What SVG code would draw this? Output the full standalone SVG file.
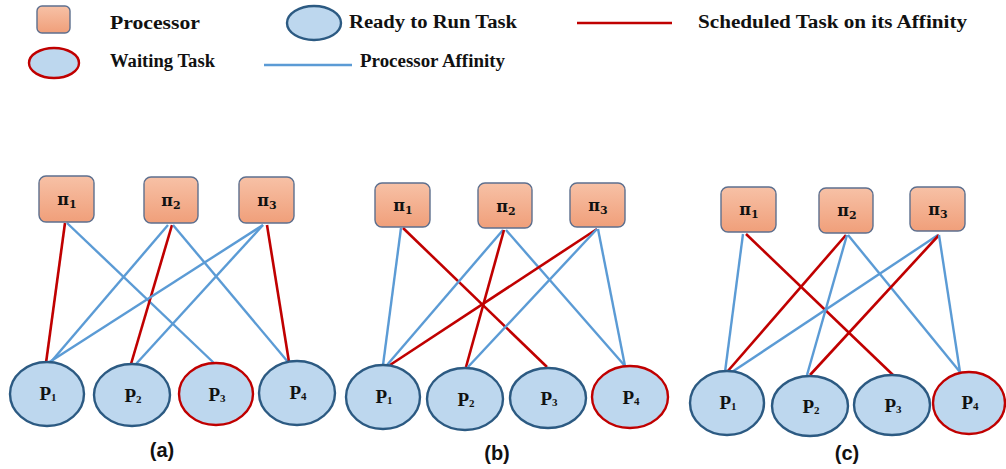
<svg xmlns="http://www.w3.org/2000/svg" width="1006" height="469" viewBox="0 0 1006 469">
<defs>
<linearGradient id="pg" x1="0" y1="0" x2="0" y2="1">
<stop offset="0" stop-color="#f7c1a6"/>
<stop offset="1" stop-color="#f09f7a"/>
</linearGradient>
<style>
.proc{fill:url(#pg);stroke:#5d6f8e;stroke-width:1.4}
.task{fill:#bdd7ee;stroke:#2c5a82;stroke-width:2.4}
.wait{fill:#bdd7ee;stroke:#c00000;stroke-width:2.4}
.aff{stroke:#5b9bd5;stroke-width:2.4;fill:none}
.sch{stroke:#c00000;stroke-width:2.6;fill:none}
.leg{font-family:"Liberation Serif",serif;font-weight:bold;font-size:18px;fill:#111}
.lbl{font-family:"Liberation Serif",serif;font-weight:bold;font-size:19px;fill:#111;text-anchor:middle}
.pil{font-family:"DejaVu Serif",serif;font-weight:bold;font-size:16px;fill:#111;text-anchor:middle}
.sub{font-size:11px}
.cap{font-family:"Liberation Sans",sans-serif;font-weight:bold;font-size:20px;fill:#111;text-anchor:middle}
</style>
</defs>

<g id="legend">
<rect class="proc" x="37" y="6" width="33" height="27" rx="5"/>
<text class="leg" x="110" y="29" textLength="90" lengthAdjust="spacingAndGlyphs">Processor</text>
<ellipse class="task" cx="314" cy="23" rx="27" ry="17"/>
<text class="leg" x="349" y="28" textLength="168" lengthAdjust="spacingAndGlyphs">Ready to Run Task</text>
<line class="sch" x1="577" y1="23" x2="672" y2="23" stroke-width="3"/>
<text class="leg" x="698" y="28" textLength="269" lengthAdjust="spacingAndGlyphs">Scheduled Task on its Affinity</text>
<ellipse class="wait" cx="54" cy="63" rx="25" ry="15"/>
<text class="leg" x="110" y="67" textLength="105" lengthAdjust="spacingAndGlyphs">Waiting Task</text>
<line class="aff" x1="264" y1="65" x2="352" y2="65" stroke-width="3"/>
<text class="leg" x="360" y="67" textLength="145" lengthAdjust="spacingAndGlyphs">Processor Affinity</text>
</g>

<g id="connectors">
<!-- (a) -->
<line class="sch" x1="65" y1="223" x2="46" y2="363"/>
<line class="aff" x1="67" y1="223" x2="215" y2="364"/>
<line class="sch" x1="172" y1="225" x2="131" y2="364"/>
<line class="aff" x1="168" y1="225" x2="50" y2="363"/>
<line class="aff" x1="173" y1="225" x2="288" y2="362"/>
<line class="sch" x1="267" y1="225" x2="289" y2="362"/>
<line class="aff" x1="263" y1="225" x2="48" y2="363"/>
<line class="aff" x1="263" y1="225" x2="136" y2="364"/>
<!-- (b) -->
<line class="aff" x1="401" y1="228" x2="383" y2="365"/>
<line class="sch" x1="403" y1="228" x2="547" y2="367"/>
<line class="aff" x1="503" y1="230" x2="387" y2="365"/>
<line class="sch" x1="504" y1="230" x2="466" y2="367"/>
<line class="aff" x1="506" y1="230" x2="625" y2="366"/>
<line class="sch" x1="597" y1="229" x2="390" y2="365"/>
<line class="aff" x1="597" y1="229" x2="468" y2="367"/>
<line class="aff" x1="598" y1="229" x2="625" y2="366"/>
<!-- (c) -->
<line class="aff" x1="743" y1="234" x2="725" y2="372"/>
<line class="sch" x1="746" y1="234" x2="893" y2="375"/>
<line class="sch" x1="846" y1="235" x2="727" y2="372"/>
<line class="aff" x1="847" y1="235" x2="807" y2="375"/>
<line class="aff" x1="848" y1="235" x2="960" y2="372"/>
<line class="aff" x1="938" y1="235" x2="732" y2="372"/>
<line class="sch" x1="939" y1="235" x2="810" y2="375"/>
<line class="aff" x1="939" y1="235" x2="960" y2="372"/>
</g>

<!-- panel (a) -->
<g id="a-pi1"><rect class="proc" x="39" y="176" width="55" height="46" rx="7"/><text class="pil" x="67" y="205">π<tspan class="sub" dy="3">1</tspan></text></g>
<g id="a-pi2"><rect class="proc" x="144" y="177" width="54" height="46" rx="7"/><text class="pil" x="171" y="206">π<tspan class="sub" dy="3">2</tspan></text></g>
<g id="a-pi3"><rect class="proc" x="239" y="177" width="55" height="46" rx="7"/><text class="pil" x="267" y="206">π<tspan class="sub" dy="3">3</tspan></text></g>
<g id="a-p1"><ellipse class="task" cx="47" cy="394" rx="37" ry="32"/><text class="lbl" x="48" y="400">P<tspan class="sub" dy="1">1</tspan></text></g>
<g id="a-p2"><ellipse class="task" cx="132" cy="395" rx="38" ry="31"/><text class="lbl" x="133" y="402">P<tspan class="sub" dy="1">2</tspan></text></g>
<g id="a-p3"><ellipse class="wait" cx="216" cy="394" rx="37" ry="31"/><text class="lbl" x="217" y="401">P<tspan class="sub" dy="1">3</tspan></text></g>
<g id="a-p4"><ellipse class="task" cx="297" cy="393" rx="38" ry="32"/><text class="lbl" x="298" y="399">P<tspan class="sub" dy="1">4</tspan></text></g>
<text class="cap" x="162" y="457">(a)</text>

<!-- panel (b) -->
<g id="b-pi1"><rect class="proc" x="375" y="183" width="55" height="44" rx="7"/><text class="pil" x="403" y="211">π<tspan class="sub" dy="3">1</tspan></text></g>
<g id="b-pi2"><rect class="proc" x="478" y="183" width="54" height="45" rx="7"/><text class="pil" x="506" y="212">π<tspan class="sub" dy="3">2</tspan></text></g>
<g id="b-pi3"><rect class="proc" x="570" y="183" width="55" height="44" rx="7"/><text class="pil" x="598" y="211">π<tspan class="sub" dy="3">3</tspan></text></g>
<g id="b-p1"><ellipse class="task" cx="383" cy="397" rx="37" ry="32"/><text class="lbl" x="384" y="403">P<tspan class="sub" dy="1">1</tspan></text></g>
<g id="b-p2"><ellipse class="task" cx="465" cy="399" rx="38" ry="31"/><text class="lbl" x="466" y="406">P<tspan class="sub" dy="1">2</tspan></text></g>
<g id="b-p3"><ellipse class="task" cx="548" cy="398" rx="38" ry="30"/><text class="lbl" x="549" y="405">P<tspan class="sub" dy="1">3</tspan></text></g>
<g id="b-p4"><ellipse class="wait" cx="630" cy="397" rx="38" ry="31"/><text class="lbl" x="631" y="404">P<tspan class="sub" dy="1">4</tspan></text></g>
<text class="cap" x="497" y="460">(b)</text>

<!-- panel (c) -->
<g id="c-pi1"><rect class="proc" x="721" y="187" width="55" height="45" rx="7"/><text class="pil" x="749" y="215">π<tspan class="sub" dy="3">1</tspan></text></g>
<g id="c-pi2"><rect class="proc" x="819" y="188" width="54" height="45" rx="7"/><text class="pil" x="847" y="216">π<tspan class="sub" dy="3">2</tspan></text></g>
<g id="c-pi3"><rect class="proc" x="910" y="187" width="55" height="44" rx="7"/><text class="pil" x="938" y="215">π<tspan class="sub" dy="3">3</tspan></text></g>
<g id="c-p1"><ellipse class="task" cx="727" cy="403" rx="37" ry="32"/><text class="lbl" x="728" y="409">P<tspan class="sub" dy="1">1</tspan></text></g>
<g id="c-p2"><ellipse class="task" cx="810" cy="406" rx="38" ry="30"/><text class="lbl" x="811" y="413">P<tspan class="sub" dy="1">2</tspan></text></g>
<g id="c-p3"><ellipse class="task" cx="892" cy="405" rx="38" ry="30"/><text class="lbl" x="893" y="412">P<tspan class="sub" dy="1">3</tspan></text></g>
<g id="c-p4"><ellipse class="wait" cx="969" cy="403" rx="36" ry="31"/><text class="lbl" x="970" y="409">P<tspan class="sub" dy="1">4</tspan></text></g>
<text class="cap" x="847" y="460">(c)</text>
</svg>
